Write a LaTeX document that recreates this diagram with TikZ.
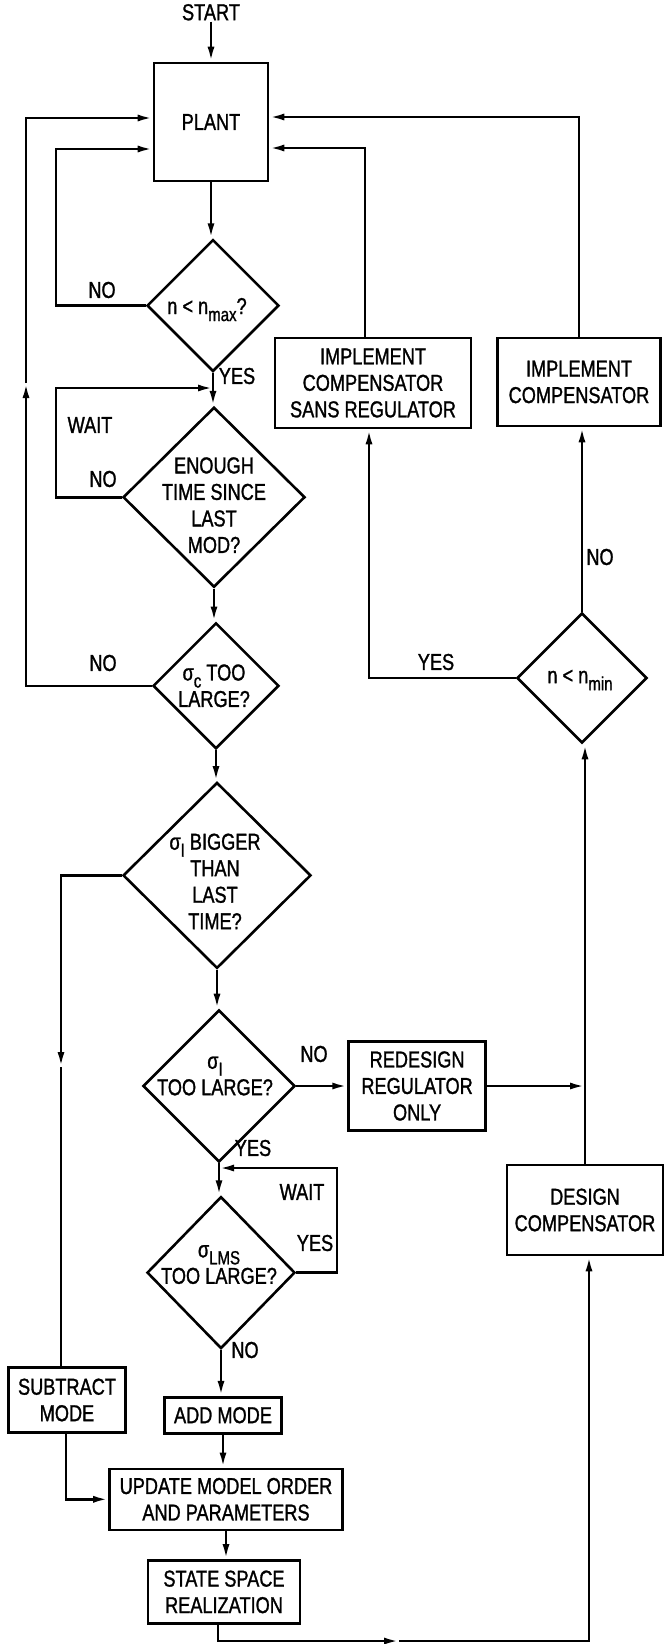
\documentclass[tikz,border=0pt]{standalone}
\usepackage{fontspec}
\setmainfont[FakeStretch=0.79,FakeBold=1.2]{Liberation Sans}
\usetikzlibrary{positioning,shapes.geometric,arrows.meta}
\newcommand{\lowsub}[1]{\raisebox{-7pt}{\fontsize{19}{19}\selectfont #1}}
\newcommand{\sig}[1]{σ\lowsub{#1}}

\begin{document}
\begin{tikzpicture}[x=1pt,y=-1pt,line width=2.6pt,
    every node/.style={font=\fontsize{23}{26.5}\selectfont},
    box/.style={draw,line width=2.6pt,inner sep=2pt,align=center},
    dia/.style={draw,diamond,line width=2.6pt,inner sep=0pt},
    lbl/.style={inner sep=0pt},
    arr/.style={line width=2.6pt,-{Latex[length=15pt,width=7pt]}}]
  \useasboundingbox (0,0) rectangle (664,1644);
  % main column
  \node[box,minimum width=114pt,minimum height=118pt] (plant) at (211,122) {PLANT};
  \node[lbl,above=40pt of plant] (start) {START};
  \node[dia,minimum width=132pt,minimum height=132pt,below=56pt of plant,xshift=2pt] (d1) {};
  \node[dia,minimum width=182pt,minimum height=180pt,below=33pt of d1,xshift=1pt] (d2) {};
  \node[dia,minimum width=126pt,minimum height=126pt,below=33pt of d2,xshift=2pt] (d3) {};
  \node[dia,minimum width=188pt,minimum height=186pt,below=31pt of d3,xshift=1pt] (d4) {};
  \node[dia,minimum width=152pt,minimum height=152pt,below=39pt of d4,xshift=2pt] (d5) {};
  \node[dia,minimum width=148pt,minimum height=152pt,below=32pt of d5,xshift=2pt] (d6) {};
  \node[box,minimum width=117pt,minimum height=36pt,below=46pt of d6,xshift=2pt] (add) {ADD MODE};
  \node[box,minimum width=233pt,minimum height=61pt,below=33pt of add,xshift=3pt] (update) {UPDATE MODEL ORDER\\AND PARAMETERS};
  \node[box,minimum width=152pt,minimum height=63pt,below=28pt of update,xshift=-2pt] (state) {STATE SPACE\\REALIZATION};
  % texts of the decisions
  \node (d1t) at ([xshift=-6pt,yshift=-4pt]d1) {n < n\lowsub{max}?};
  \node[align=center] (d2t) at ([yshift=-8pt]d2) {ENOUGH\\TIME SINCE\\LAST\\MOD?};
  \node[align=center] (d3t) at ([xshift=-2pt]d3) {\sig{c} TOO\\LARGE?};
  \node[align=center] (d4t) at ([xshift=-2pt,yshift=-6pt]d4) {\sig{I} BIGGER\\THAN\\LAST\\TIME?};
  \node[align=center] (d5t) at ([xshift=-4pt,yshift=10pt]d5) {\sig{I}\\TOO LARGE?};
  \node[align=center] (d6t) at ([xshift=-2pt,yshift=8pt]d6) {\sig{LMS}\\TOO LARGE?};
  % right side
  \node[box,minimum width=196pt,minimum height=90pt] (isr) at (373,383) {IMPLEMENT\\COMPENSATOR\\SANS REGULATOR};
  \node[box,minimum width=163pt,minimum height=88pt] (ic) at (579,382) {IMPLEMENT\\COMPENSATOR};
  \node[dia,minimum width=130pt,minimum height=130pt] (dmin) at (582,678) {};
  \node (dmint) at ([xshift=-2pt,yshift=-2pt]dmin) {n < n\lowsub{min}};
  \node[box,minimum width=137pt,minimum height=89pt,right=51pt of d5] (redesign) {REDESIGN\\REGULATOR\\ONLY};
  \node[box,minimum width=156pt,minimum height=90pt] (design) at (585,1210) {DESIGN\\COMPENSATOR};
  \node[box,minimum width=117pt,minimum height=65pt] (subtract) at (67,1400) {SUBTRACT\\MODE};
  % corners of the loops
  \coordinate (upA) at (26,383);
  \coordinate (cornerA) at (26,118);
  \coordinate (cornerB) at (56,149);
  \coordinate (cornerC) at (56,388);
  \coordinate (downA) at (61,1067);
  \coordinate (cornerD) at (337,1168);
  \coordinate (midB) at (399,1641);
  % straight down
  \draw[arr] (start) -- (plant);
  \draw[arr] (plant.south) -- (plant.south |- d1.north);
  \draw[arr] (d1.south) -- (d1.south |- d2.north);
  \draw[arr] (d2.south) -- (d2.south |- d3.north);
  \draw[arr] (d3.south) -- (d3.south |- d4.north);
  \draw[arr] (d4.south) -- (d4.south |- d5.north);
  \draw[arr] (d5.south) -- (d5.south |- d6.north);
  \draw[arr] (d6.south) -- (d6.south |- add.north);
  \draw[arr] (add.south) -- (add.south |- update.north);
  \draw[arr] (update.south) -- (update.south |- state.north);
  % loops back
  \draw[arr] (d3.west) -| (upA);
  \draw[arr] (upA) -- (cornerA) -- (cornerA -| plant.west);
  \draw[arr] (d1.west) -| (cornerB) -- (cornerB -| plant.west);
  \draw[arr] (d2.west) -| (cornerC) -- (cornerC -| d1.south);
  \draw[arr] ([xshift=-8pt]isr.north) |- ([yshift=-26pt]plant.east);
  \draw[arr] (ic.north) |- ([yshift=5pt]plant.east);
  \draw[arr] (dmin.west) -| ([xshift=-4pt]isr.south);
  \draw[arr] (dmin.north) -- (dmin.north |- ic.south);
  \draw[arr] (design.north) -- (design.north |- dmin.south);
  \draw[arr] (d5.east) -- (redesign.west);
  \draw[arr] (redesign.east) -- (redesign.east -| design.north);
  \draw[arr] (d4.west) -| (downA);
  \draw (downA) -- (downA |- subtract.north);
  \draw[arr] ([xshift=-1pt]subtract.south) |- (update.west);
  \draw[arr] (d6.east) -| (cornerD) -- (cornerD -| d5.south);
  \draw[arr] ([xshift=-6pt]state.south) |- (midB);
  \draw[arr] (midB) -| ([xshift=4pt]design.south);
  % labels
  \node[lbl] (no1) at (102,290) {NO};
  \node[lbl] (yes1) at (237,376) {YES};
  \node[lbl] (wait1) at (90,425) {WAIT};
  \node[lbl] (no2) at (103,479) {NO};
  \node[lbl] (no3) at (103,663) {NO};
  \node[lbl] (yes2) at (436,662) {YES};
  \node[lbl] (no4) at (600,557) {NO};
  \node[lbl] (no5) at (314,1054) {NO};
  \node[lbl] (yes3) at (253,1148) {YES};
  \node[lbl] (wait2) at (302,1192) {WAIT};
  \node[lbl] (yes4) at (315,1243) {YES};
  \node[lbl] (no6) at (245,1350) {NO};
\end{tikzpicture}
\end{document}
